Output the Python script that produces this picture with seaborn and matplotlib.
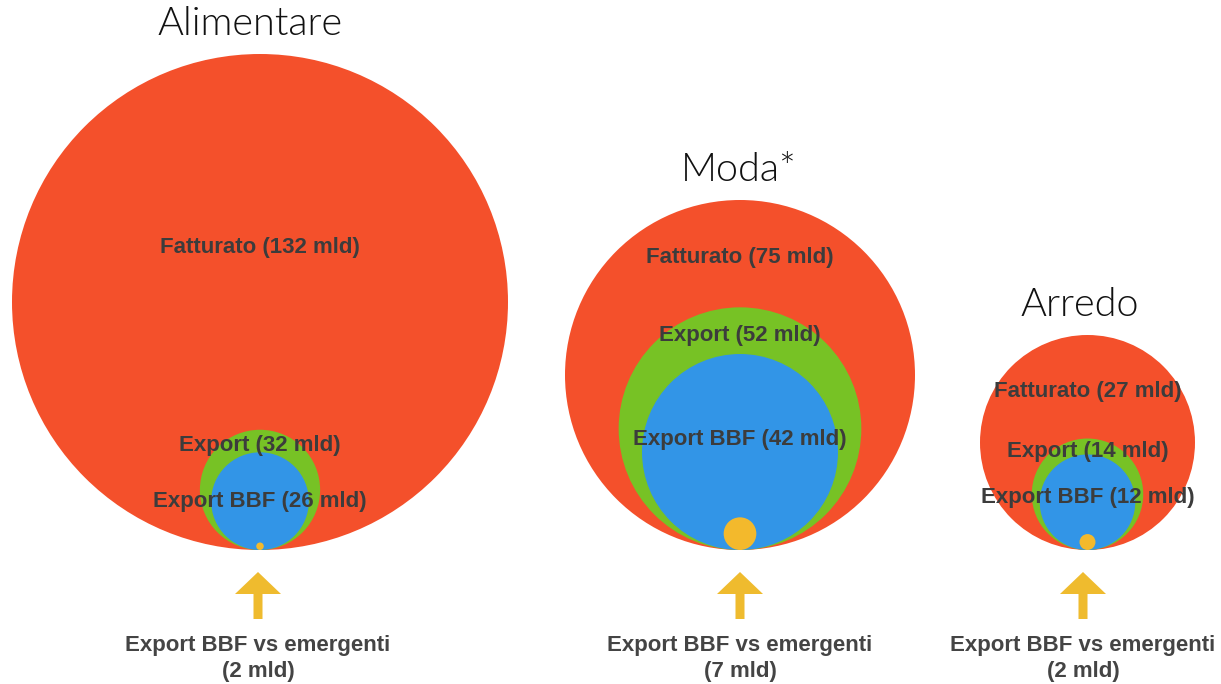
import matplotlib
matplotlib.use("Agg")
import matplotlib.pyplot as plt
from matplotlib.patches import Circle, Polygon
import seaborn as sns
import pandas as pd

# ---- data ----
sectors = ["Alimentare", "Moda*", "Arredo"]
fatturato = [132, 75, 27]
export = [32, 52, 14]
export_bbf = [26, 42, 12]
export_emergenti = [2, 7, 2]
unit = "mld"

# ---- layout (pixels) ----
W, H = 1221, 684
centers_x = [260, 740, 1087.5]
outer_radius = [248, 175, 107.5]   # radius of the Fatturato circle in each group
baseline_y = 550
title_pos = [(250, 24), (739, 170), (1080, 305)]
label_y_fatt = [247, 258, 391]
label_y_exp = [445, 336, 452]
label_y_bbf = [502, 440, 498]
arrow_x = [258, 740, 1083]

RED, GREEN, BLUE, YELLOW = "#F4502B", "#77C225", "#3295E7", "#F3B92C"
ARROW = "#EFBB2E"
TXT = "#3c3c3c"

sns.set_theme(style="white")
plt.rcParams["font.family"] = ["Liberation Sans", "DejaVu Sans"]

df = pd.DataFrame({
    "sector": sectors, "fatturato": fatturato, "export": export,
    "bbf": export_bbf, "emergenti": export_emergenti,
})

fig = plt.figure(figsize=(W / 100, H / 100), dpi=100)
ax = fig.add_axes([0, 0, 1, 1])
ax.set_xlim(0, W)
ax.set_ylim(H, 0)
ax.set_axis_off()

for i, row in df.iterrows():
    cx = centers_x[i]
    scale = outer_radius[i] / row["fatturato"]
    for col, color in [("fatturato", RED), ("export", GREEN), ("bbf", BLUE), ("emergenti", YELLOW)]:
        r = row[col] * scale
        ax.add_patch(Circle((cx, baseline_y - r), r, facecolor=color, edgecolor="none"))
    tx, ty = title_pos[i]
    ax.text(tx, ty, row["sector"], ha="center", va="center", fontsize=28.5,
            family=["Lato", "DejaVu Sans"], fontweight=300, color="#111111")
    kw = dict(ha="center", va="center", fontsize=16, fontweight="bold", color=TXT)
    ax.text(cx, label_y_fatt[i], f"Fatturato ({row['fatturato']} {unit})", **kw)
    ax.text(cx, label_y_exp[i], f"Export ({row['export']} {unit})", **kw)
    ax.text(cx, label_y_bbf[i], f"Export BBF ({row['bbf']} {unit})", **kw)
    # arrow
    ax_ = arrow_x[i]
    pts = [(ax_, 572), (ax_ - 23, 594), (ax_ - 4.5, 594), (ax_ - 4.5, 619),
           (ax_ + 4.5, 619), (ax_ + 4.5, 594), (ax_ + 23, 594)]
    ax.add_patch(Polygon(pts, closed=True, facecolor=ARROW, edgecolor="none"))
    ax.text(ax_, 646, "Export BBF vs emergenti", ha="center", va="center",
            fontsize=16, fontweight="bold", color="#444444")
    ax.text(ax_, 671, f"({row['emergenti']} {unit})", ha="center", va="center",
            fontsize=16, fontweight="bold", color="#444444")

fig.savefig("out.png", dpi=100)
